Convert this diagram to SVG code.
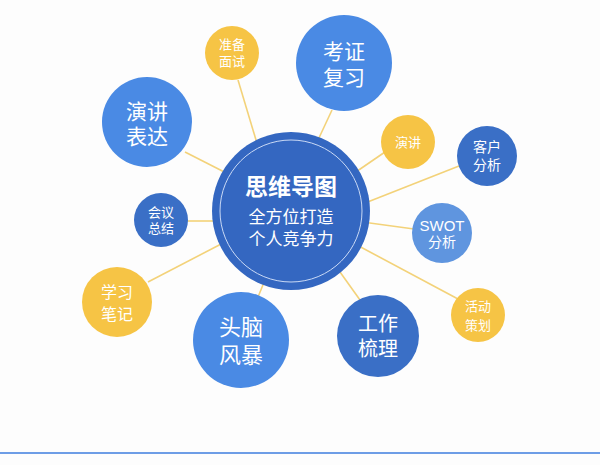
<svg xmlns="http://www.w3.org/2000/svg" width="600" height="465" viewBox="0 0 600 465">
<style>
text{font-family:"Liberation Sans","Noto Sans CJK SC",sans-serif;fill:#fff;text-anchor:middle;dominant-baseline:central}
.ln{stroke:#f3d279;stroke-width:1.6;fill:none}
.big{fill:#4a8ae4}
.dk{fill:#3a6fc6}
.yl{fill:#f6c445}
.sw{fill:#5f95df}
</style>
<rect width="600" height="465" fill="#fdfdfd"/>
<g id="connectors">
<line class="ln" x1="238" y1="80" x2="262" y2="160"/>
<line class="ln" x1="185" y1="152" x2="240" y2="180"/>
<line class="ln" x1="332" y1="110" x2="318" y2="140"/>
<line class="ln" x1="385" y1="152" x2="350" y2="176"/>
<line class="ln" x1="459" y1="166" x2="360" y2="205"/>
<line class="ln" x1="355" y1="221" x2="414" y2="229"/>
<line class="ln" x1="355" y1="244" x2="458" y2="299"/>
<line class="ln" x1="335" y1="265" x2="360" y2="300"/>
<line class="ln" x1="265" y1="280" x2="258" y2="297"/>
<line class="ln" x1="148" y1="282" x2="225" y2="242"/>
<line class="ln" x1="186" y1="221" x2="215" y2="221"/>
</g>
<g id="center">
<circle cx="291" cy="211" r="79" fill="#3467c1"/>
<circle cx="291" cy="211" r="71" fill="none" stroke="#c9d9f5" stroke-width="1"/>
<text x="291" y="187" font-size="23" font-weight="bold">思维导图</text>
<text x="291" y="217" font-size="17">全方位打造<tspan x="291" dy="22">个人竞争力</tspan></text>
</g>
<g id="n-yanjiang-biaoda">
<circle class="big" cx="147" cy="122" r="45"/>
<text x="147" y="111" font-size="21">演讲<tspan x="147" dy="25">表达</tspan></text>
</g>
<g id="n-zhunbei-mianshi">
<circle class="yl" cx="232" cy="53" r="27"/>
<text x="232" y="44" font-size="13">准备<tspan x="232" dy="17">面试</tspan></text>
</g>
<g id="n-kaozheng-fuxi">
<circle class="big" cx="344" cy="63" r="48"/>
<text x="344" y="51" font-size="21">考证<tspan x="344" dy="26">复习</tspan></text>
</g>
<g id="n-yanjiang">
<circle class="yl" cx="408" cy="142" r="27"/>
<text x="408" y="142" font-size="13">演讲</text>
</g>
<g id="n-kehu-fenxi">
<circle class="dk" cx="487" cy="156" r="30"/>
<text x="487" y="147" font-size="14">客户<tspan x="487" dy="18">分析</tspan></text>
</g>
<g id="n-swot">
<circle class="sw" cx="442" cy="233" r="30"/>
<text x="442" y="225" font-size="15">SWOT<tspan x="442" dy="17" font-size="14">分析</tspan></text>
</g>
<g id="n-huodong-cehua">
<circle class="yl" cx="478" cy="315" r="27"/>
<text x="478" y="306" font-size="13">活动<tspan x="478" dy="19">策划</tspan></text>
</g>
<g id="n-gongzuo-shuli">
<circle class="dk" cx="378" cy="336" r="41"/>
<text x="378" y="324" font-size="20">工作<tspan x="378" dy="25">梳理</tspan></text>
</g>
<g id="n-tounao-fengbao">
<circle class="big" cx="241" cy="340" r="48"/>
<text x="241" y="327" font-size="22">头脑<tspan x="241" dy="28">风暴</tspan></text>
</g>
<g id="n-xuexi-biji">
<circle class="yl" cx="117" cy="302" r="35"/>
<text x="117" y="292" font-size="16">学习<tspan x="117" dy="22">笔记</tspan></text>
</g>
<g id="n-huiyi-zongjie">
<circle class="dk" cx="161" cy="220" r="27"/>
<text x="161" y="212" font-size="13">会议<tspan x="161" dy="16">总结</tspan></text>
</g>
<line x1="0" y1="453" x2="600" y2="453" stroke="#6d9de6" stroke-width="2"/>
</svg>
